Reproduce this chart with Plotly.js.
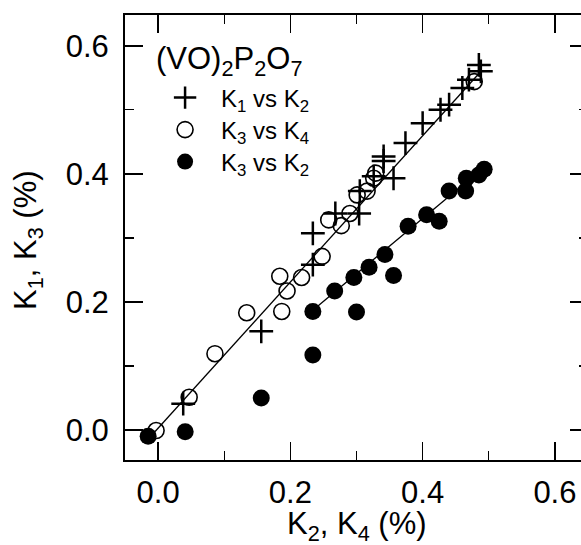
<!DOCTYPE html>
<html>
<head>
<meta charset="utf-8">
<script src="https://cdn.plot.ly/plotly-3.0.1.min.js"></script>
<style>html,body{margin:0;padding:0;background:#fff;overflow:hidden;}#chart{width:588px;height:545px;}</style>
</head>
<body>
<div id="chart"></div>
<script>
// K1 vs K2 (plus)
const k1vk2_x = [0.038, 0.156, 0.234, 0.234, 0.268, 0.304, 0.305, 0.326, 0.341, 0.341, 0.356, 0.374, 0.400, 0.427, 0.440, 0.460, 0.470, 0.485, 0.488];
const k1vk2_y = [0.041, 0.154, 0.258, 0.307, 0.338, 0.338, 0.373, 0.396, 0.420, 0.427, 0.393, 0.448, 0.479, 0.500, 0.508, 0.534, 0.547, 0.570, 0.560];
// K3 vs K4 (open circles)
const k3vk4_x = [-0.003, 0.047, 0.086, 0.134, 0.187, 0.195, 0.184, 0.217, 0.248, 0.258, 0.277, 0.290, 0.301, 0.316, 0.326, 0.329, 0.478];
const k3vk4_y = [-0.001, 0.051, 0.119, 0.183, 0.185, 0.217, 0.240, 0.238, 0.271, 0.328, 0.319, 0.338, 0.367, 0.373, 0.393, 0.401, 0.544];
// K3 vs K2 (filled circles)
const k3vk2_x = [-0.015, 0.041, 0.156, 0.234, 0.234, 0.267, 0.300, 0.296, 0.319, 0.343, 0.356, 0.378, 0.406, 0.425, 0.440, 0.465, 0.466, 0.485, 0.493];
const k3vk2_y = [-0.010, -0.003, 0.050, 0.117, 0.185, 0.217, 0.184, 0.238, 0.254, 0.274, 0.241, 0.318, 0.336, 0.326, 0.373, 0.373, 0.393, 0.398, 0.407];
// fitted lines
const fit1_x = [-0.012, 0.490];
const fit1_y = [-0.011, 0.562];
const fit2_x = [0.234, 0.490];
const fit2_y = [0.187, 0.408];

const legendTitle = '(VO)<sub>2</sub>P<sub>2</sub>O<sub>7</sub>';
const xTitle = 'K<sub>2</sub>, K<sub>4</sub> (%)';
const yTitle = 'K<sub>1</sub>, K<sub>3</sub> (%)';

const FONT = 'Liberation Sans, Arial, sans-serif';

const traces = [
  {x: fit1_x, y: fit1_y, mode: 'lines', line: {color: '#000', width: 1.3}, showlegend: false, hoverinfo: 'skip'},
  {x: fit2_x, y: fit2_y, mode: 'lines', line: {color: '#000', width: 1.3}, showlegend: false, hoverinfo: 'skip'},
  {x: k1vk2_x, y: k1vk2_y, mode: 'markers', name: 'K<sub>1</sub> vs K<sub>2</sub>', legend: 'legend',
   marker: {symbol: 'cross-thin-open', size: 17, color: '#000', line: {color: '#000', width: 2.5}}},
  {x: k3vk4_x, y: k3vk4_y, mode: 'markers', name: 'K<sub>3</sub> vs K<sub>4</sub>', legend: 'legend2',
   marker: {symbol: 'circle-open', size: 16, color: '#000', line: {color: '#000', width: 1.6}}},
  {x: k3vk2_x, y: k3vk2_y, mode: 'markers', name: 'K<sub>3</sub> vs K<sub>2</sub>', legend: 'legend3',
   marker: {symbol: 'circle', size: 17, color: '#000', line: {width: 0}}}
];

const axisCommon = {
  showgrid: false, zeroline: false, showline: true, linecolor: '#000', linewidth: 2,
  mirror: 'ticks', ticks: 'inside', ticklen: 18, tickwidth: 1.6, tickcolor: '#000',
  tickfont: {family: FONT, size: 31, color: '#000'},
  minor: {dtick: 0.1, ticks: 'inside', ticklen: 9, tickwidth: 1.4, tickcolor: '#000'},
  tickformat: '.1f'
};

function legendAt(ypx) {
  return {
    x: 0.052, y: (460 - ypx) / 445, xanchor: 'left', yanchor: 'middle',
    bgcolor: 'rgba(0,0,0,0)', borderwidth: 0,
    font: {family: FONT, size: 24, color: '#000'},
    itemwidth: 62
  };
}

const layout = {
  width: 588, height: 545,
  margin: {l: 125, r: 0, t: 15, b: 85},
  paper_bgcolor: '#fff', plot_bgcolor: '#fff',
  font: {family: FONT, color: '#000'},
  xaxis: Object.assign({}, axisCommon, {
    range: [-0.05, 0.65], dtick: 0.2, tick0: 0, ticklabelstandoff: 4
  }),
  yaxis: Object.assign({}, axisCommon, {
    range: [-0.047, 0.648], dtick: 0.2, tick0: 0, ticklabelstandoff: 8
  }),
  legend: legendAt(98),
  legend2: legendAt(130),
  legend3: legendAt(162),
  showlegend: true,
  annotations: [
    {text: legendTitle, xref: 'paper', yref: 'paper', x: 0.062, y: (460 - 39) / 445,
     xanchor: 'left', yanchor: 'top', showarrow: false, font: {family: FONT, size: 31, color: '#000'}},
    {text: xTitle, xref: 'paper', yref: 'paper', x: 0.5, y: (460 - 504) / 445,
     xanchor: 'center', yanchor: 'top', showarrow: false, font: {family: FONT, size: 31, color: '#000'}},
    {text: yTitle, xref: 'paper', yref: 'paper', x: (6 - 125) / 463, y: (460 - 240) / 445, textangle: -90,
     xanchor: 'left', yanchor: 'middle', showarrow: false, font: {family: FONT, size: 31, color: '#000'}}
  ]
};

Plotly.newPlot('chart', traces, layout, {displayModeBar: false, staticPlot: true});
</script>
</body>
</html>
